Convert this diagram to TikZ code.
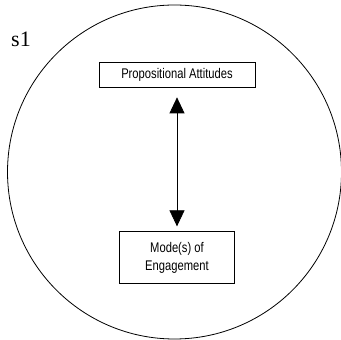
\documentclass[tikz,border=0pt]{standalone}
\usepackage{fontspec}
\setmainfont{Liberation Serif}
\newfontfamily\narrowsans[FakeStretch=0.8]{Liberation Sans}
\usepackage{tikz}
\usetikzlibrary{positioning}
\usetikzlibrary{arrows.meta}

\begin{document}
\begin{tikzpicture}[
        x=1pt, y=1pt,
        box/.style={rectangle, draw=black, line width=0.7pt, inner sep=0pt, align=center, font=\narrowsans\fontsize{14}{18}\selectfont},
        link/.style={{Triangle[width=15pt, length=16pt]}-{Triangle[width=15pt, length=16pt]}, line width=0.7pt}
    ]
    \useasboundingbox (0,0) rectangle (341,340);

    \node[circle, draw=black, line width=0.8pt, minimum size=334pt, inner sep=0pt] (state) at (174.5,168) {};
    \node[font=\fontsize{22}{24}\selectfont] (s_label) at (21,301) {s1};

    \node[box, minimum width=156pt, minimum height=25pt] (attitudes) at (177,265.5) {Propositional Attitudes};
    \node[box, minimum width=115pt, minimum height=52pt] (engagement) [below=144pt of attitudes] {Mode(s) of\\Engagement};

    \draw[link, shorten <=10pt, shorten >=5pt] (attitudes.south) to (attitudes.south |- engagement.north);
\end{tikzpicture}
\end{document}
